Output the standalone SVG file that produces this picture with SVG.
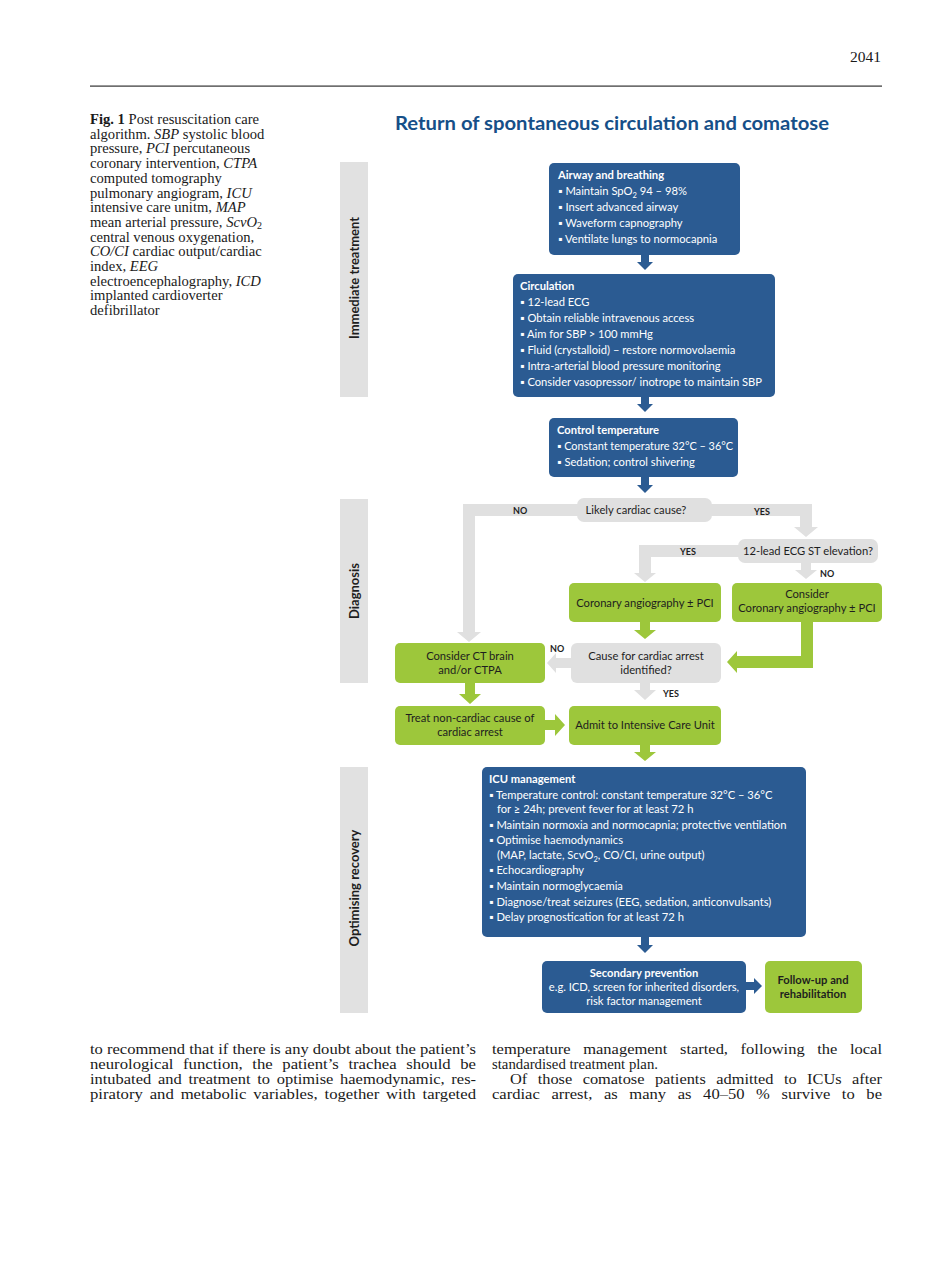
<svg xmlns="http://www.w3.org/2000/svg" width="950" height="1263" viewBox="0 0 950 1263">
<style>
.page{font-family:"Liberation Serif","Times New Roman",serif;font-size:15.5px;fill:#1a1a1a}
.cap{font-family:"Liberation Serif","Times New Roman",serif;font-size:14.6px;fill:#1a1a1a}
.bar{fill:#e1e1e1}
.barlbl{font-family:"Lato","Open Sans",sans-serif;font-weight:bold;font-size:13px;fill:#1e1e1e;text-anchor:middle}
.blue{fill:#2b5b92}
.green{fill:#9dc73b}
.gray{fill:#e0e0e0}
.wt{font-family:"Lato","Open Sans",sans-serif;font-size:11.2px;fill:#ffffff}
.wb{font-family:"Lato","Open Sans",sans-serif;font-size:11.2px;fill:#ffffff;font-weight:bold}
.dt{font-family:"Lato","Open Sans",sans-serif;font-size:11.2px;fill:#1e1e1e;text-anchor:middle}
.db{font-family:"Lato","Open Sans",sans-serif;font-size:11.2px;fill:#1e1e1e;text-anchor:middle;font-weight:bold}
.lbl{font-family:"Lato","Open Sans",sans-serif;font-size:9px;fill:#1e1e1e;font-weight:bold}
.title{font-family:"Lato","Open Sans",sans-serif;font-size:19px;font-weight:bold;fill:#164f88}
</style>

<g id="header">
<text class="page" x="881" y="62" text-anchor="end" font-size="14.5">2041</text>
<rect x="90" y="85.5" width="792" height="1.2" fill="#333"/>
</g>

<g id="caption" class="cap">
<text x="90" y="124"><tspan font-weight="bold">Fig. 1</tspan> Post resuscitation care</text>
<text x="90" y="138.7">algorithm. <tspan font-style="italic">SBP</tspan> systolic blood</text>
<text x="90" y="153.4">pressure, <tspan font-style="italic">PCI</tspan> percutaneous</text>
<text x="90" y="168.1">coronary intervention, <tspan font-style="italic">CTPA</tspan></text>
<text x="90" y="182.8">computed tomography</text>
<text x="90" y="197.5">pulmonary angiogram, <tspan font-style="italic">ICU</tspan></text>
<text x="90" y="212.2">intensive care unitm, <tspan font-style="italic">MAP</tspan></text>
<text x="90" y="226.9">mean arterial pressure, <tspan font-style="italic">ScvO</tspan><tspan font-size="10" dy="2">2</tspan></text>
<text x="90" y="241.6">central venous oxygenation,</text>
<text x="90" y="256.3"><tspan font-style="italic">CO/CI</tspan> cardiac output/cardiac</text>
<text x="90" y="271">index, <tspan font-style="italic">EEG</tspan></text>
<text x="90" y="285.7">electroencephalography, <tspan font-style="italic">ICD</tspan></text>
<text x="90" y="300.4">implanted cardioverter</text>
<text x="90" y="315.1">defibrillator</text>
</g>

<g id="title">
<text class="title" x="395" y="130" textLength="434" lengthAdjust="spacingAndGlyphs">Return of spontaneous circulation and comatose</text>
</g>

<g id="bars">
<rect class="bar" x="340" y="162" width="28" height="235"/>
<text class="barlbl" transform="translate(358.5,278) rotate(-90)">Immediate treatment</text>
<rect class="bar" x="340" y="499" width="28" height="184"/>
<text class="barlbl" transform="translate(358.5,591) rotate(-90)">Diagnosis</text>
<rect class="bar" x="340" y="767" width="28" height="246"/>
<text class="barlbl" transform="translate(358.5,888) rotate(-90)">Optimising recovery</text>
</g>

<g id="connectors">
<path class="blue" d="M641,255 V262 H637 L645,270 L653,262 H649 V255 Z"/>
<path class="blue" d="M641,397 V404 H637 L645,412 L653,404 H649 V397 Z"/>
<path class="blue" d="M641,477 V485 H637 L645,493 L653,485 H649 V477 Z"/>
<path class="blue" d="M641,937 V945 H637 L645,953 L653,945 H649 V937 Z"/>
<path class="blue" d="M746,982 H754 V978 L762,986 L754,994 V990 H746 Z"/>
<path class="gray" d="M578,504 H463 V632 H457 L469,642 L481,632 H475 V516 H578 Z"/>
<path class="gray" d="M711,504 H812 V527 H818 L806,537 L794,527 H800 V516 H711 Z"/>
<path class="gray" d="M739,545 H639 V573 H634 L645,582 L656,573 H651 V557 H739 Z"/>
<path class="gray" d="M801,562 V570 H795 L806,579 L817,570 H811 V562 Z"/>
<path class="gray" d="M571,658 H556 V653 L547,663 L556,673 V668 H571 Z"/>
<path class="gray" d="M640,683 V690 H634 L645,700 L656,690 H650 V683 Z"/>
<path class="green" d="M801,622 V656 H737 V651 L727,662 L737,673 V668 H813 V622 Z"/>
<path class="green" d="M640,622 V630 H634 L645,639 L656,630 H650 V622 Z"/>
<path class="green" d="M465,683 V694 H459 L470,704 L481,694 H475 V683 Z"/>
<path class="green" d="M545,720 H555 V714 L565,725 L555,736 V730 H545 Z"/>
<path class="green" d="M640,745 V752 H634 L645,761 L656,752 H650 V745 Z"/>
<text class="lbl" x="513" y="514">NO</text>
<text class="lbl" x="754" y="515">YES</text>
<text class="lbl" x="680" y="555">YES</text>
<text class="lbl" x="820" y="577">NO</text>
<text class="lbl" x="550" y="652">NO</text>
<text class="lbl" x="663" y="697">YES</text>
</g>

<g id="airway">
<rect class="blue" x="549" y="163" width="191" height="92" rx="5"/>
<text class="wb" x="558" y="179">Airway and breathing</text>
<text class="wt" x="558" y="195">▪ Maintain SpO<tspan font-size="7.5" dy="2.5">2</tspan><tspan dy="-2.5"> 94 – 98%</tspan></text>
<text class="wt" x="558" y="211">▪ Insert advanced airway</text>
<text class="wt" x="558" y="227">▪ Waveform capnography</text>
<text class="wt" x="558" y="243">▪ Ventilate lungs to normocapnia</text>
</g>

<g id="circulation">
<rect class="blue" x="513" y="274" width="262" height="123" rx="5"/>
<text class="wb" x="520" y="290">Circulation</text>
<text class="wt" x="520" y="306">▪ 12-lead ECG</text>
<text class="wt" x="520" y="322">▪ Obtain reliable intravenous access</text>
<text class="wt" x="520" y="338">▪ Aim for SBP &gt; 100 mmHg</text>
<text class="wt" x="520" y="354">▪ Fluid (crystalloid) – restore normovolaemia</text>
<text class="wt" x="520" y="370">▪ Intra-arterial blood pressure monitoring</text>
<text class="wt" x="520" y="386">▪ Consider vasopressor/ inotrope to maintain SBP</text>
</g>

<g id="temperature">
<rect class="blue" x="549" y="418" width="189" height="59" rx="5"/>
<text class="wb" x="557" y="434">Control temperature</text>
<text class="wt" x="557" y="450" textLength="176" lengthAdjust="spacingAndGlyphs">▪ Constant temperature 32°C – 36°C</text>
<text class="wt" x="557" y="466">▪ Sedation; control shivering</text>
</g>

<g id="likely-cardiac">
<rect class="gray" x="577" y="498" width="135" height="24" rx="7"/>
<text class="dt" x="636" y="514">Likely cardiac cause?</text>
</g>

<g id="st-elevation">
<rect class="gray" x="738" y="539" width="140" height="24" rx="7"/>
<text class="dt" x="808" y="555">12-lead ECG ST elevation?</text>
</g>

<g id="coronary">
<rect class="green" x="569" y="583" width="152" height="39" rx="5"/>
<text class="dt" x="645" y="607">Coronary angiography ± PCI</text>
</g>

<g id="consider-coronary">
<rect class="green" x="732" y="583" width="150" height="39" rx="5"/>
<text class="dt" x="807" y="598">Consider</text>
<text class="dt" x="807" y="612">Coronary angiography ± PCI</text>
</g>

<g id="cause-identified">
<rect class="gray" x="571" y="643" width="150" height="40" rx="6"/>
<text class="dt" x="646" y="660">Cause for cardiac arrest</text>
<text class="dt" x="646" y="674">identified?</text>
</g>

<g id="ct-brain">
<rect class="green" x="395" y="643" width="150" height="40" rx="5"/>
<text class="dt" x="470" y="660">Consider CT brain</text>
<text class="dt" x="470" y="674">and/or CTPA</text>
</g>

<g id="treat-noncardiac">
<rect class="green" x="395" y="706" width="150" height="39" rx="5"/>
<text class="dt" x="470" y="722">Treat non-cardiac cause of</text>
<text class="dt" x="470" y="736">cardiac arrest</text>
</g>

<g id="admit-icu">
<rect class="green" x="569" y="706" width="152" height="39" rx="5"/>
<text class="dt" x="645" y="729">Admit to Intensive Care Unit</text>
</g>

<g id="icu-management">
<rect class="blue" x="482" y="767" width="324" height="170" rx="5"/>
<text class="wb" x="489" y="783">ICU management</text>
<text class="wt" x="489" y="799">▪ Temperature control: constant temperature 32°C – 36°C</text>
<text class="wt" x="497" y="813">for ≥ 24h; prevent fever for at least 72 h</text>
<text class="wt" x="489" y="829">▪ Maintain normoxia and normocapnia; protective ventilation</text>
<text class="wt" x="489" y="844">▪ Optimise haemodynamics</text>
<text class="wt" x="497" y="859">(MAP, lactate, ScvO<tspan font-size="7.5" dy="2.5">2</tspan><tspan dy="-2.5">, CO/CI, urine output)</tspan></text>
<text class="wt" x="489" y="874">▪ Echocardiography</text>
<text class="wt" x="489" y="890">▪ Maintain normoglycaemia</text>
<text class="wt" x="489" y="906">▪ Diagnose/treat seizures (EEG, sedation, anticonvulsants)</text>
<text class="wt" x="489" y="921">▪ Delay prognostication for at least 72 h</text>
</g>

<g id="secondary-prevention">
<rect class="blue" x="542" y="961" width="204" height="52" rx="5"/>
<text class="wb" x="644" y="977" text-anchor="middle">Secondary prevention</text>
<text class="wt" x="644" y="991" text-anchor="middle">e.g. ICD, screen for inherited disorders,</text>
<text class="wt" x="644" y="1005" text-anchor="middle">risk factor management</text>
</g>

<g id="follow-up">
<rect class="green" x="765" y="961" width="97" height="52" rx="5"/>
<text class="db" x="813" y="984">Follow-up and</text>
<text class="db" x="813" y="998">rehabilitation</text>
</g>

<g id="body-text" class="page">
<text x="90" y="1054" textLength="386" lengthAdjust="spacingAndGlyphs">to recommend that if there is any doubt about the patient’s</text>
<text x="90" y="1069" word-spacing="5" textLength="386" lengthAdjust="spacingAndGlyphs">neurological function, the patient’s trachea should be</text>
<text x="90" y="1084" word-spacing="2.5" textLength="386" lengthAdjust="spacingAndGlyphs">intubated and treatment to optimise haemodynamic, res-</text>
<text x="90" y="1099" word-spacing="2.5" textLength="386" lengthAdjust="spacingAndGlyphs">piratory and metabolic variables, together with targeted</text>
<text x="492" y="1054" word-spacing="8" textLength="390" lengthAdjust="spacingAndGlyphs">temperature management started, following the local</text>
<text x="492" y="1069" textLength="166" lengthAdjust="spacingAndGlyphs">standardised treatment plan.</text>
<text x="510" y="1084" word-spacing="6" textLength="372" lengthAdjust="spacingAndGlyphs">Of those comatose patients admitted to ICUs after</text>
<text x="492" y="1099" word-spacing="7" textLength="390" lengthAdjust="spacingAndGlyphs">cardiac arrest, as many as 40–50 % survive to be</text>
</g>
</svg>
